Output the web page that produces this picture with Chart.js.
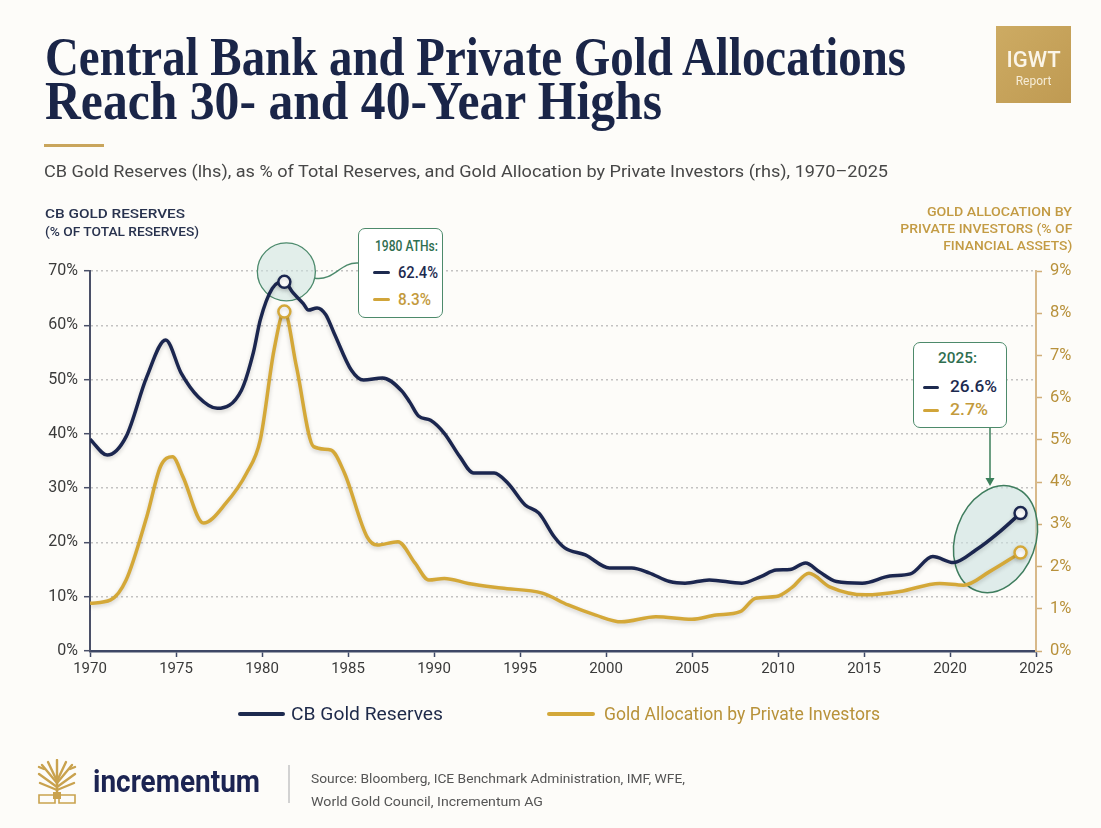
<!DOCTYPE html>
<html>
<head>
<meta charset="utf-8">
<script src="https://cdn.jsdelivr.net/npm/chart.js@4.4.1/dist/chart.umd.min.js"></script>
<style>
  html,body{margin:0;padding:0;background:#fdfcf9;}
  #wrap{position:relative;width:1101px;height:828px;overflow:hidden;background:#fdfcf9;font-family:Roboto,'Liberation Sans',sans-serif;}
  #c{position:absolute;left:0;top:0;}
  .abs{position:absolute;white-space:nowrap;}
  .fit{display:inline-block;white-space:nowrap;transform-origin:left center;}
  .fitr{display:inline-block;white-space:nowrap;transform-origin:right center;}
  .box{position:absolute;background:#fff;border:1.5px solid #4d8a6b;border-radius:7px;box-sizing:border-box;}
  .dash{position:absolute;height:3px;border-radius:2px;}
</style>
</head>
<body>
<div id="wrap">
  <canvas id="c" width="1101" height="828"></canvas>

  <!-- title -->
  <div class="abs" style="left:45px;top:35px;font:700 55px 'Liberation Serif',serif;color:#1a2548;line-height:44px;">
    <div><span class="fit" data-w="861">Central Bank and Private Gold Allocations</span></div>
    <div><span class="fit" data-w="617">Reach 30- and 40-Year Highs</span></div>
  </div>
  <div class="abs" style="left:44px;top:144px;width:60px;height:3px;background:#c9a55c;"></div>
  <div class="abs" style="left:44px;top:162px;font:400 16.5px Roboto,sans-serif;color:#474747;line-height:20px;">
    <span class="fit" data-w="844">CB Gold Reserves (lhs), as % of Total Reserves, and Gold Allocation by Private Investors (rhs), 1970–2025</span>
  </div>

  <!-- IGWT badge -->
  <div class="abs" style="left:996px;top:26px;width:75px;height:77px;background:linear-gradient(135deg,#cdab63,#bf9a52);"></div>
  <div class="abs" style="left:996px;top:47px;width:75px;text-align:center;font:500 22px Roboto,sans-serif;color:#fbf5e8;line-height:26px;">IGWT</div>
  <div class="abs" style="left:996px;top:73px;width:75px;text-align:center;font:400 12px Roboto,sans-serif;color:#f6ecd6;line-height:16px;">Report</div>

  <!-- axis titles -->
  <div class="abs" style="left:45px;top:205px;font:500 13px Roboto,sans-serif;color:#28324e;line-height:18px;">
    <div><span class="fit" data-w="140">CB GOLD RESERVES</span></div>
    <div><span class="fit" data-w="154">(% OF TOTAL RESERVES)</span></div>
  </div>
  <div class="abs" style="right:29px;top:203px;font:500 13px Roboto,sans-serif;color:#c39b44;line-height:17px;text-align:right;">
    <div><span class="fitr" data-w="145">GOLD ALLOCATION BY</span></div>
    <div><span class="fitr" data-w="172">PRIVATE INVESTORS (% OF</span></div>
    <div><span class="fitr" data-w="129">FINANCIAL ASSETS)</span></div>
  </div>

  <!-- annotation 1980 -->
  <div class="box" style="left:358px;top:228px;width:85px;height:90px;"></div>
  <div class="abs" style="left:375px;top:237px;font:500 14.5px Roboto,sans-serif;color:#2f6e50;line-height:20px;"><span class="fit" data-w="63">1980 ATHs:</span></div>
  <div class="dash" style="left:373px;top:271px;width:17px;background:#1d2a4f;"></div>
  <div class="abs" style="left:398px;top:262px;font:500 16px Roboto,sans-serif;color:#1d2a4f;line-height:22px;"><span class="fit" data-w="40">62.4%</span></div>
  <div class="dash" style="left:373px;top:298px;width:17px;background:#d1a53a;"></div>
  <div class="abs" style="left:398px;top:289px;font:500 16px Roboto,sans-serif;color:#c39a3c;line-height:22px;"><span class="fit" data-w="33">8.3%</span></div>

  <!-- annotation 2025 -->
  <div class="box" style="left:913px;top:342px;width:94px;height:86px;"></div>
  <div class="abs" style="left:938px;top:348px;font:500 14px Roboto,sans-serif;color:#2f6e50;line-height:20px;"><span class="fit" data-w="39">2025:</span></div>
  <div class="dash" style="left:923px;top:386px;width:16px;background:#1d2a4f;"></div>
  <div class="abs" style="left:950px;top:376px;font:500 16px Roboto,sans-serif;color:#1d2a4f;line-height:22px;"><span class="fit" data-w="47">26.6%</span></div>
  <div class="dash" style="left:923px;top:409px;width:16px;background:#d1a53a;"></div>
  <div class="abs" style="left:950px;top:399px;font:500 16px Roboto,sans-serif;color:#c39a3c;line-height:22px;"><span class="fit" data-w="38">2.7%</span></div>

  <!-- legend -->
  <div class="dash" style="left:238px;top:712px;width:47px;height:4px;background:#1d2a4f;"></div>
  <div class="abs" style="left:291px;top:703px;font:400 18px Roboto,sans-serif;color:#1e2a4a;line-height:22px;"><span class="fit" data-w="152">CB Gold Reserves</span></div>
  <div class="dash" style="left:547px;top:712px;width:48px;height:4px;background:#d3a83a;"></div>
  <div class="abs" style="left:604px;top:703px;font:400 18px Roboto,sans-serif;color:#b8923a;line-height:22px;"><span class="fit" data-w="276">Gold Allocation by Private Investors</span></div>

  <!-- footer -->
  <svg class="abs" style="left:36px;top:759px;" width="42" height="46" viewBox="0 0 42 46">
    <g stroke="#c9a24e" stroke-width="2.4" stroke-linecap="round" fill="none">
      <path d="M21 36 L21 20"/>
      <path d="M21 24 L6 6"/><path d="M21 22 L12 3"/><path d="M21 20 L21 1"/><path d="M21 22 L30 3"/><path d="M21 24 L36 6"/>
      <path d="M21 28 L3 15"/><path d="M21 28 L39 15"/><path d="M21 31 L4 24"/><path d="M21 31 L38 24"/>
      <path d="M8 10 L3 8"/><path d="M34 10 L39 8"/>
    </g>
    <path d="M3 36 L19 36 L19 44 L3 44 Z M23 36 L39 36 L39 44 L23 44 Z" fill="none" stroke="#c9a24e" stroke-width="1.6"/>
    <path d="M17 33 L25 33 L25 40 L17 40 Z" fill="#c9a24e"/>
  </svg>
  <div class="abs" style="left:93px;top:763px;font:700 31px Roboto,sans-serif;color:#1c2452;line-height:38px;"><span class="fit" data-w="167">incrementum</span></div>
  <div class="abs" style="left:288px;top:765px;width:1.5px;height:38px;background:#d2d2d2;"></div>
  <div class="abs" style="left:311px;top:767px;font:400 13.5px Roboto,sans-serif;color:#555;line-height:23px;">
    <div><span class="fit" data-w="374">Source: Bloomberg, ICE Benchmark Administration, IMF, WFE,</span></div>
    <div><span class="fit" data-w="232">World Gold Council, Incrementum AG</span></div>
  </div>
</div>

<script>
// ---- data ----
const cbYears = [1970.0, 1971.0, 1972.1, 1973.3, 1974.4, 1975.3, 1976.3, 1977.4, 1978.8, 1979.5, 1979.9, 1980.6, 1981.3,
  1981.8, 1982.4, 1982.7, 1983.2, 1983.7, 1984.2, 1985.2, 1985.9, 1987.0, 1988.1, 1988.6, 1989.1, 1989.8, 1990.6,
  1991.5, 1992.3, 1993.5, 1994.3, 1995.3, 1996.1, 1997.0, 1997.6, 1998.8, 2000.2, 2001.5, 2002.5, 2003.7, 2004.6,
  2006.0, 2007.9, 2009.0, 2009.9, 2010.7, 2011.6, 2012.4, 2013.4, 2014.9, 2016.5, 2017.7, 2019.0, 2020.2, 2021.5,
  2022.9, 2024.1];
const cbValues = [39.0, 36.1, 39.5, 50.5, 57.3, 51.2, 46.8, 44.7, 48.0, 55.0, 61.0, 66.8, 68.0,
  66.0, 64.0, 62.8, 63.2, 62.0, 58.5, 51.7, 49.9, 50.3, 48.0, 45.8, 43.3, 42.5, 40.1,
  35.8, 32.8, 32.8, 30.9, 26.9, 25.4, 21.0, 19.0, 17.7, 15.3, 15.3, 14.4, 12.8, 12.5,
  13.1, 12.5, 13.7, 14.9, 15.0, 16.2, 14.6, 12.8, 12.5, 13.8, 14.2, 17.4, 16.3, 18.6,
  22.0, 25.4];

const goldYears = [1970.0, 1971.2, 1972.1, 1973.3, 1974.1, 1974.8, 1975.4, 1976.6, 1977.9, 1979.1, 1979.9, 1980.7, 1981.3,
  1982.0, 1983.0, 1984.0, 1984.8, 1986.1, 1986.7, 1987.9, 1988.9, 1989.7, 1990.6, 1992.0, 1993.9, 1996.3, 1997.8,
  1999.4, 2000.9, 2002.9, 2005.0, 2006.4, 2007.8, 2008.7, 2009.9, 2010.8, 2011.8, 2013.0, 2015.1, 2017.1, 2019.4,
  2020.8, 2022.3, 2024.1];
const goldValues = [1.13, 1.21, 1.68, 3.18, 4.37, 4.60, 4.13, 3.03, 3.50, 4.21, 5.00, 7.13, 8.04,
  6.74, 4.84, 4.76, 4.21, 2.71, 2.51, 2.59, 2.08, 1.68, 1.72, 1.60, 1.49, 1.37, 1.09,
  0.85, 0.69, 0.81, 0.75, 0.85, 0.93, 1.25, 1.29, 1.50, 1.84, 1.52, 1.33, 1.41, 1.60,
  1.56, 1.88, 2.33];

const xTickYears = [1970, 1975, 1980, 1985, 1990, 1995, 2000, 2005, 2010, 2015, 2020, 2025];
const leftTickValues = [0, 10, 20, 30, 40, 50, 60, 70];
const rightTickValues = [0, 1, 2, 3, 4, 5, 6, 7, 8, 9];
const seriesNames = ['CB Gold Reserves', 'Gold Allocation by Private Investors'];

// ---- styling ----
const NAVY = '#1b264f', GOLD = '#d4a838';
const cbPeak = cbValues.indexOf(Math.max(...cbValues));
const goldPeak = goldValues.indexOf(Math.max(...goldValues));
const markerAt = (peak, last) => ctx => (ctx.dataIndex === peak || ctx.dataIndex === last) ? 6 : 0;

const shadowPlugin = {
  id: 'lineShadow',
  beforeDatasetDraw(chart) { const c = chart.ctx; c.save(); c.shadowColor = 'rgba(0,0,0,0.18)'; c.shadowBlur = 4; c.shadowOffsetY = 2; },
  afterDatasetDraw(chart) { chart.ctx.restore(); }
};

const annoPlugin = {
  id: 'annos',
  beforeDatasetsDraw(chart) {
    const c = chart.ctx;
    const m0 = chart.getDatasetMeta(0);
    const p = m0.data[cbPeak];
    const q = m0.data[cbValues.length - 1];
    c.save();
    // circle around 1980 peak
    const cx = p.x + 2, cy = p.y - 10, r = 29;
    c.beginPath(); c.arc(cx, cy, r, 0, Math.PI * 2);
    c.fillStyle = 'rgba(204,225,223,0.55)'; c.fill();
    c.lineWidth = 1.3; c.strokeStyle = '#4c8a6c'; c.stroke();
    // connector to box
    const sx = cx + r * Math.cos(0.22), sy = cy + r * Math.sin(0.22);
    c.beginPath(); c.moveTo(sx, sy);
    c.bezierCurveTo(sx + 20, sy + 3, 340, 262, 358, 263);
    c.lineWidth = 1.4; c.stroke();
    // ellipse around 2025 values
    const ex = q.x - 25, ey = q.y + 26;
    c.beginPath(); c.ellipse(ex, ey, 40, 55, 0.35, 0, Math.PI * 2);
    c.fillStyle = 'rgba(204,225,223,0.6)'; c.fill();
    c.lineWidth = 1.5; c.strokeStyle = '#3f7d5e'; c.stroke();
    // arrow from box down to ellipse
    const ax = 990, topY = 428, tipY = ey - 53;
    c.beginPath(); c.moveTo(ax, topY); c.lineTo(ax, tipY - 6);
    c.lineWidth = 1.5; c.strokeStyle = '#3b7f5a'; c.stroke();
    c.beginPath(); c.moveTo(ax - 4.5, tipY - 8); c.lineTo(ax + 4.5, tipY - 8); c.lineTo(ax, tipY); c.closePath();
    c.fillStyle = '#3b7f5a'; c.fill();
    c.restore();
  }
};

new Chart(document.getElementById('c'), {
  type: 'line',
  data: {
    datasets: [
      {
        label: seriesNames[0], yAxisID: 'yL',
        data: cbYears.map((x, i) => ({ x, y: cbValues[i] })),
        borderColor: NAVY, borderWidth: 3.5, cubicInterpolationMode: 'monotone', fill: false,
        pointRadius: markerAt(cbPeak, cbValues.length - 1), pointBackgroundColor: '#ffffff',
        pointBorderColor: NAVY, pointBorderWidth: 2.5, pointHoverRadius: 0
      },
      {
        label: seriesNames[1], yAxisID: 'yR',
        data: goldYears.map((x, i) => ({ x, y: goldValues[i] })),
        borderColor: GOLD, borderWidth: 3.5, cubicInterpolationMode: 'monotone', fill: false,
        pointRadius: markerAt(goldPeak, goldValues.length - 1), pointBackgroundColor: '#ffffff',
        pointBorderColor: GOLD, pointBorderWidth: 2.5, pointHoverRadius: 0
      }
    ]
  },
  options: {
    responsive: false, animation: false, devicePixelRatio: 1, events: [],
    layout: { padding: { left: 40, right: 15, top: 271, bottom: 147 } },
    plugins: { legend: { display: false }, tooltip: { enabled: false } },
    scales: {
      x: {
        type: 'linear', min: 1970, max: 2025,
        afterBuildTicks: s => { s.ticks = xTickYears.map(v => ({ value: v })); },
        afterFit: s => { s.height = 30; },
        ticks: { callback: v => String(v), color: '#3a3a3a', font: { family: 'Roboto', size: 15 }, padding: 3, maxRotation: 0 },
        grid: { drawOnChartArea: false, tickLength: 6, tickColor: '#3e4866', tickWidth: 1.5 },
        border: { color: '#3e4866', width: 2.5 }
      },
      yL: {
        position: 'left', min: 0, max: 70,
        afterBuildTicks: s => { s.ticks = leftTickValues.map(v => ({ value: v })); },
        afterFit: s => { s.width = 50; },
        ticks: { callback: v => v + '%', color: '#3a3a3a', font: { family: 'Roboto', size: 16 }, padding: 6 },
        grid: { color: 'rgba(175,175,175,0.75)', lineWidth: 1.4, tickLength: 6, tickColor: '#4a5068', tickWidth: 1.5 },
        border: { color: '#4a5068', width: 2, dash: [2, 3] }
      },
      yR: {
        position: 'right', min: 0, max: 9,
        afterBuildTicks: s => { s.ticks = rightTickValues.map(v => ({ value: v })); },
        afterFit: s => { s.width = 50; },
        ticks: { callback: v => v + '%', color: '#b8913b', font: { family: 'Roboto', size: 16.5 }, padding: 8 },
        grid: { drawOnChartArea: false, tickLength: 6, tickColor: '#d0ae78', tickWidth: 1.5 },
        border: { color: '#d8b98a', width: 2 }
      }
    }
  },
  plugins: [annoPlugin, shadowPlugin]
});

function fitAll() {
  document.querySelectorAll('[data-w]').forEach(el => {
    el.style.transform = 'none';
    const w = el.getBoundingClientRect().width;
    if (w > 0) el.style.transform = 'scaleX(' + (+el.dataset.w / w) + ')';
  });
}
fitAll();
if (document.fonts && document.fonts.ready) document.fonts.ready.then(fitAll);
</script>
</body>
</html>
